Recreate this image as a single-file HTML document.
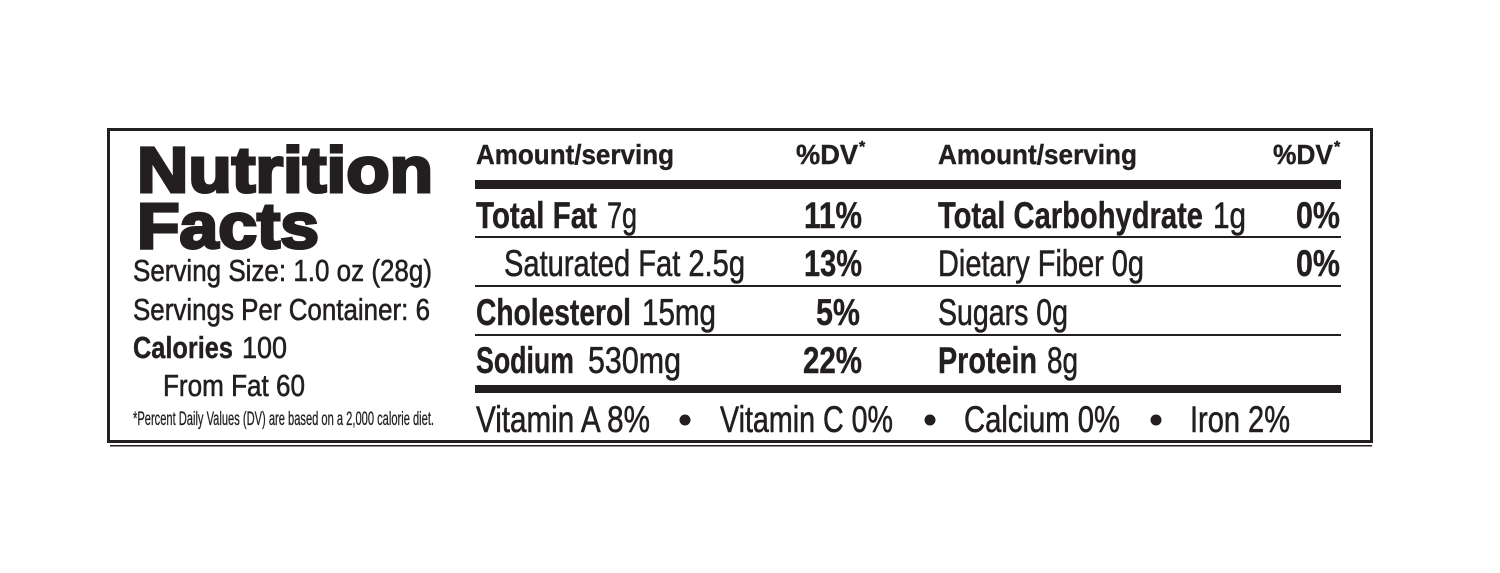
<!DOCTYPE html>
<html><head><meta charset="utf-8"><style>
html,body{margin:0;padding:0;background:#fff;width:1500px;height:573px;overflow:hidden}
svg{display:block}
text{font-family:"Liberation Sans Narrow","Liberation Sans",sans-serif;fill:#231f20;stroke:#231f20;stroke-width:0.6px}
.b{font-weight:bold;stroke-width:0.4px}
.h{font-family:"Liberation Sans",sans-serif;font-weight:900;stroke:#231f20;stroke-width:3px}
</style></head><body>
<svg width="1500" height="573" viewBox="0 0 1500 573" xmlns="http://www.w3.org/2000/svg">
<rect x="108.5" y="129.5" width="1263" height="312" fill="none" stroke="#231f20" stroke-width="3"/>
<rect x="110" y="445" width="1262" height="1.5" fill="#231f20"/>
<rect x="110" y="442" width="1262" height="1" fill="#231f20"/>
<rect x="475" y="180" width="866" height="9" fill="#231f20"/>
<rect x="475" y="236" width="866" height="2" fill="#231f20"/>
<rect x="475" y="285" width="866" height="2" fill="#231f20"/>
<rect x="475" y="334" width="866" height="2" fill="#231f20"/>
<rect x="475" y="385" width="866" height="8" fill="#231f20"/>
<text class="h" x="137" y="192" font-size="64" textLength="296" lengthAdjust="spacingAndGlyphs">Nutrition</text>
<text class="h" x="137" y="248" font-size="64" textLength="182" lengthAdjust="spacingAndGlyphs">Facts</text>
<text x="133" y="281" font-size="31" textLength="299" lengthAdjust="spacingAndGlyphs">Serving Size: 1.0 oz (28g)</text>
<text x="133" y="320" font-size="31" textLength="297" lengthAdjust="spacingAndGlyphs">Servings Per Container: 6</text>
<text class="b" x="133" y="358" font-size="31" textLength="100" lengthAdjust="spacingAndGlyphs">Calories</text>
<text x="242" y="358" font-size="31" textLength="45" lengthAdjust="spacingAndGlyphs">100</text>
<text x="163" y="396" font-size="31" textLength="142" lengthAdjust="spacingAndGlyphs">From Fat 60</text>
<text x="133" y="425" font-size="19" textLength="301" lengthAdjust="spacingAndGlyphs" style="stroke-width:0.3px">*Percent Daily Values (DV) are based on a 2,000 calorie diet.</text>
<text class="b" x="476" y="164" font-size="28" textLength="198" lengthAdjust="spacingAndGlyphs">Amount/serving</text>
<text class="b" x="796" y="164" font-size="28" textLength="62" lengthAdjust="spacingAndGlyphs">%DV</text>
<text class="b" x="859" y="152" font-size="16">*</text>
<text class="b" x="476" y="228" font-size="37" textLength="121" lengthAdjust="spacingAndGlyphs">Total Fat</text>
<text x="607" y="228" font-size="37" textLength="30" lengthAdjust="spacingAndGlyphs">7g</text>
<text class="b" x="804" y="228" font-size="37" textLength="58" lengthAdjust="spacingAndGlyphs">11%</text>
<text x="504" y="276" font-size="37" textLength="241" lengthAdjust="spacingAndGlyphs">Saturated Fat 2.5g</text>
<text class="b" x="804" y="276" font-size="37" textLength="58" lengthAdjust="spacingAndGlyphs">13%</text>
<text class="b" x="476" y="325" font-size="37" textLength="155" lengthAdjust="spacingAndGlyphs">Cholesterol</text>
<text x="642" y="325" font-size="37" textLength="74" lengthAdjust="spacingAndGlyphs">15mg</text>
<text class="b" x="816" y="325" font-size="37" textLength="44" lengthAdjust="spacingAndGlyphs">5%</text>
<text class="b" x="476" y="373" font-size="37" textLength="98" lengthAdjust="spacingAndGlyphs">Sodium</text>
<text x="588" y="373" font-size="37" textLength="93" lengthAdjust="spacingAndGlyphs">530mg</text>
<text class="b" x="803" y="373" font-size="37" textLength="59" lengthAdjust="spacingAndGlyphs">22%</text>
<text class="b" x="938" y="164" font-size="28" textLength="199" lengthAdjust="spacingAndGlyphs">Amount/serving</text>
<text class="b" x="1273" y="164" font-size="28" textLength="60" lengthAdjust="spacingAndGlyphs">%DV</text>
<text class="b" x="1334" y="152" font-size="16">*</text>
<text class="b" x="938" y="228" font-size="37" textLength="265" lengthAdjust="spacingAndGlyphs">Total Carbohydrate</text>
<text x="1213" y="228" font-size="37" textLength="33" lengthAdjust="spacingAndGlyphs">1g</text>
<text class="b" x="1296" y="228" font-size="37" textLength="44" lengthAdjust="spacingAndGlyphs">0%</text>
<text x="938" y="276" font-size="37" textLength="206" lengthAdjust="spacingAndGlyphs">Dietary Fiber 0g</text>
<text class="b" x="1296" y="276" font-size="37" textLength="44" lengthAdjust="spacingAndGlyphs">0%</text>
<text x="938" y="325" font-size="37" textLength="130" lengthAdjust="spacingAndGlyphs">Sugars 0g</text>
<text class="b" x="938" y="373" font-size="37" textLength="99" lengthAdjust="spacingAndGlyphs">Protein</text>
<text x="1047" y="373" font-size="37" textLength="31" lengthAdjust="spacingAndGlyphs">8g</text>
<text x="476" y="432" font-size="37" textLength="174" lengthAdjust="spacingAndGlyphs">Vitamin A 8%</text>
<circle cx="685" cy="420" r="5.5" fill="#231f20"/>
<text x="720" y="432" font-size="37" textLength="173" lengthAdjust="spacingAndGlyphs">Vitamin C 0%</text>
<circle cx="930" cy="420" r="5.5" fill="#231f20"/>
<text x="964" y="432" font-size="37" textLength="156" lengthAdjust="spacingAndGlyphs">Calcium 0%</text>
<circle cx="1156" cy="420" r="5.5" fill="#231f20"/>
<text x="1190" y="432" font-size="37" textLength="100" lengthAdjust="spacingAndGlyphs">Iron 2%</text>
</svg>
</body></html>
